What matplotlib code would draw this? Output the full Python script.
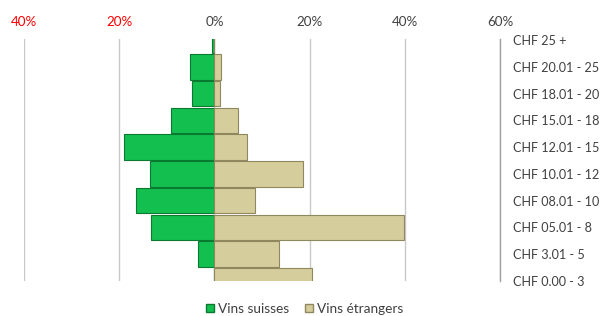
import numpy as np
import matplotlib
matplotlib.use("Agg")
from matplotlib import pyplot as plt
from matplotlib.patches import Patch

plt.rcParams["font.family"] = ["Lato", "DejaVu Sans"]

# categories, bottom to top
categories = ["CHF 0.00 - 3", "CHF 3.01 - 5", "CHF 05.01 - 8", "CHF 08.01 - 10",
              "CHF 10.01 - 12", "CHF 12.01 - 15", "CHF 15.01 - 18",
              "CHF 18.01 - 20", "CHF 20.01 - 25", "CHF 25 +"]
vins_suisses = [0.0, 3.5, 13.3, 16.5, 13.5, 19.0, 9.2, 4.7, 5.1, 0.5]
vins_etrangers = [20.5, 13.6, 39.8, 8.5, 18.6, 6.9, 5.0, 1.2, 1.3, 0.0]
x_ticks = [-40, -20, 0, 20, 40, 60]
x_labels = ["40%", "20%", "0%", "20%", "40%", "60%"]

green = "#13BF4F"
green_edge = "#0B7A31"
tan = "#D6CD9C"
tan_edge = "#8F875E"

fig = plt.figure(figsize=(6.06, 3.16), dpi=100)
ax = fig.add_axes([0.0396, 0.111, 0.7855, 0.766])

y = np.arange(len(categories))
ax.barh(y, [-v for v in vins_suisses], height=0.95, color=green,
        edgecolor=green_edge, linewidth=0.8, zorder=3)
ax.barh(y, vins_etrangers, height=0.95, color=tan,
        edgecolor=tan_edge, linewidth=0.8, zorder=3)

ax.set_xlim(-40, 60)
ax.set_ylim(0, 9.05)
ax.set_xticks(x_ticks)
ax.set_xticklabels(x_labels, fontsize=9.6)
ax.xaxis.tick_top()
ax.tick_params(axis="x", length=0, pad=7.5)
for lbl, t in zip(ax.get_xticklabels(), x_ticks):
    lbl.set_color("#FF0000" if t < 0 else "#404040")
ax.grid(axis="x", color="#C8C8C8", linewidth=1, zorder=0)

ax.set_yticks(y)
ax.set_yticklabels(categories, fontsize=9.1, color="#404040")
ax.yaxis.tick_right()
ax.tick_params(axis="y", length=0, pad=9)

for s in ["top", "left", "bottom"]:
    ax.spines[s].set_visible(False)
ax.spines["right"].set_color("#A0A0A0")
ax.spines["right"].set_linewidth(1)

handles = [Patch(facecolor=green, edgecolor=green_edge, label="Vins suisses"),
           Patch(facecolor=tan, edgecolor=tan_edge, label="Vins étrangers")]
fig.legend(handles=handles, loc="center", bbox_to_anchor=(0.503, 0.022),
           ncol=2, frameon=False, fontsize=9.8, handlelength=0.55,
           handleheight=0.55, handletextpad=0.3, columnspacing=1.2,
           labelcolor="#404040")

fig.savefig("out.png", dpi=100)
